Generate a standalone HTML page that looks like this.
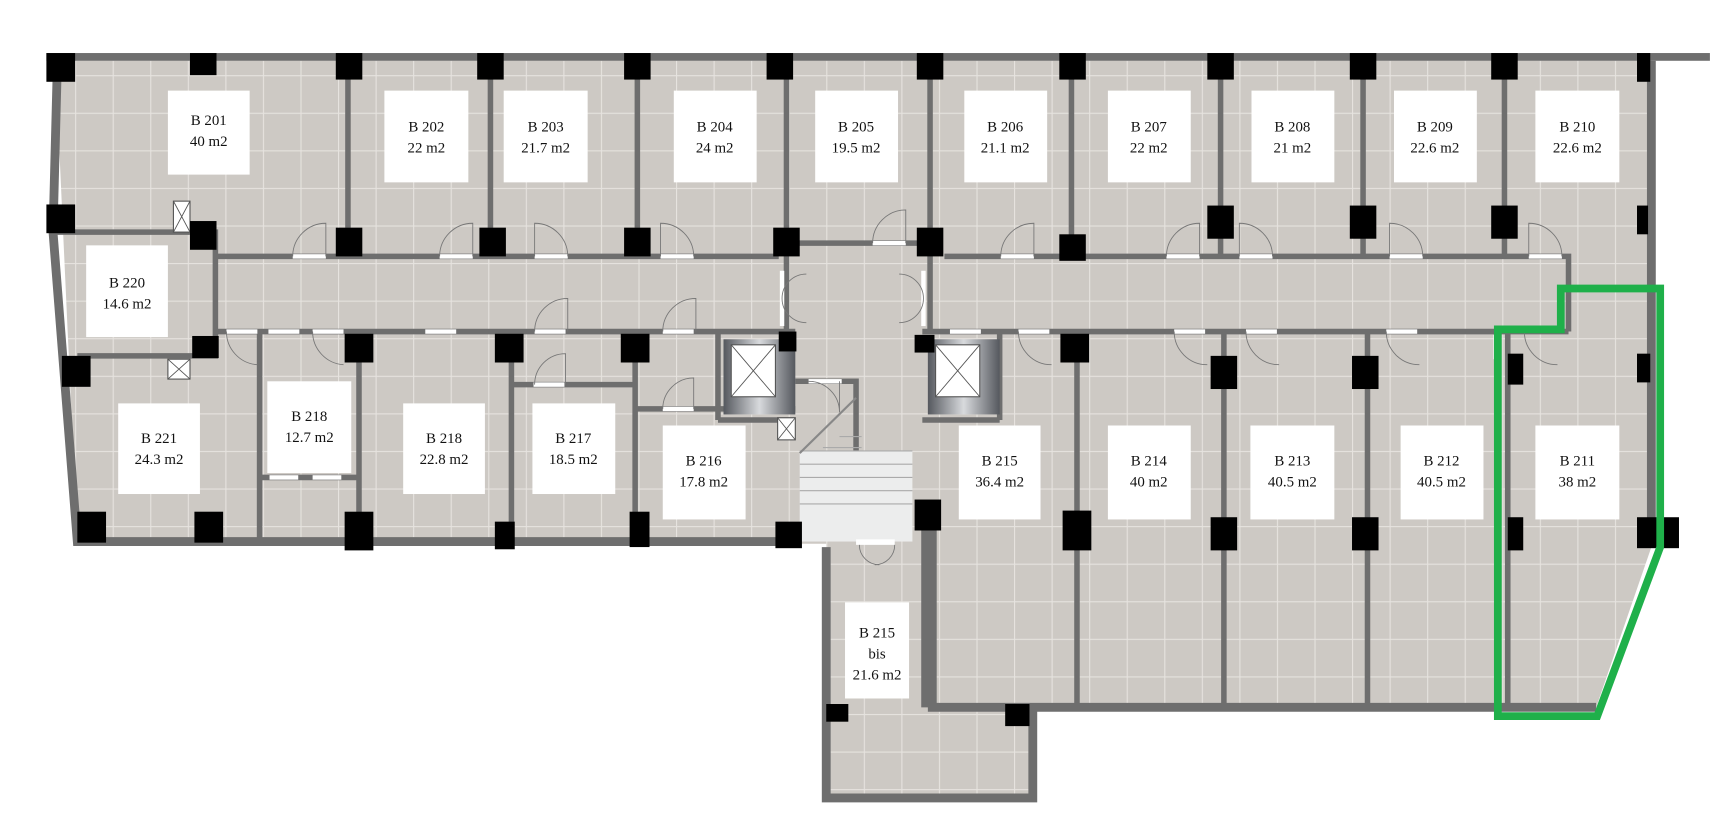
<!DOCTYPE html>
<html><head><meta charset="utf-8"><style>
html,body{margin:0;padding:0;background:#fff;width:1732px;height:830px;overflow:hidden}
svg{display:block}
text{font-family:"Liberation Serif",serif;font-size:13.5px;fill:#111;text-anchor:middle}
</style></head><body>
<svg width="1732" height="830" viewBox="0 0 1568 751" preserveAspectRatio="none" xmlns="http://www.w3.org/2000/svg">
<defs>
<pattern id="tile" width="34" height="34" patternUnits="userSpaceOnUse">
<rect width="34" height="34" fill="#cdc9c4"/>
<path d="M0 0.5H34M0.5 0V34" stroke="#e6e3df" stroke-width="1"/>
</pattern>
<linearGradient id="el" x1="0" x2="1"><stop offset="0" stop-color="#55585e"/><stop offset="0.5" stop-color="#d8dadd"/><stop offset="1" stop-color="#55585e"/></linearGradient>
</defs>
<path d="M50,55 L1495,55 L1495,495 L1445,640 L935,640 L935,720 L748,720 L748,492 L720,492 L70,490 Z" fill="url(#tile)"/>
<rect x="42" y="48" width="1506" height="7" fill="#6e6e6e"/>
<g fill="none" stroke="#6e6e6e" stroke-width="8">
<path d="M52,55 L48,210 L70,490 L320,490"/>
<path d="M320,490 L720,490"/>
<path d="M1495,55 L1495,495"/>
<path d="M1445,640 L840,640"/>
<path d="M748,495 L748,722 L935,722 L935,640"/>
</g>
<path d="M841,480 L841,640" stroke="#6e6e6e" stroke-width="14"/>
<g fill="none" stroke="#6e6e6e" stroke-width="5">
<path d="M48,210 L195,210 L195,300"/>
<path d="M195,232 L705,232 M705,220 L840,220 M855,232 L1420,232 L1420,300"/>
<path d="M195,300 L720,300 M835,300 L1420,300"/>
<path d="M315,55V232 M444,55V232 M577,55V232 M712,55V300 M842,55V300 M970,55V232 M1105,55V232 M1234,55V232 M1362,55V232"/>
<path d="M70,322 L195,322 L195,300"/>
<path d="M235,300V490 M325,300V490 M463,300V490 M575,300V490 M463,348H575 M575,370H720 M235,432H325 M720,345H775V440"/>
<path d="M975,300V640 M1108,300V640 M1238,300V640 M1365,300V640"/>
<path d="M835,380H905 M650,380H720 M650,300V380 M905,300V380"/>
</g>
<rect x="655" y="307" width="65" height="68" fill="url(#el)"/>
<rect x="840" y="307" width="65" height="68" fill="url(#el)"/>
<g fill="#fff" stroke="#555" stroke-width="1"><rect x="662" y="312" width="40" height="47"/><rect x="847" y="312" width="40" height="47"/><rect x="704" y="378" width="16" height="20"/><rect x="157" y="182" width="15" height="28"/><rect x="152" y="325" width="20" height="18"/></g>
<g stroke="#555" stroke-width="0.8"><path d="M662,312L702,359M702,312L662,359M847,312L887,359M887,312L847,359M704,378L720,398M720,378L704,398M157,182L172,210M172,182L157,210M152,325L172,343M172,325L152,343"/></g>
<rect x="724" y="408" width="102" height="82" fill="#eceded"/>
<g stroke="#aaa" stroke-width="1"><path d="M724,408H826M724,420H826M724,432H826M724,444H826M724,456H826M760,395H780M745,405H780"/></g>
<path d="M724,410 L775,360" stroke="#888" stroke-width="2"/>
<g fill="#fff"><rect x="265" y="230" width="30" height="4"/><rect x="398" y="230" width="30" height="4"/><rect x="484" y="230" width="30" height="4"/><rect x="598" y="230" width="30" height="4"/><rect x="790" y="218" width="30" height="4"/><rect x="906" y="230" width="30" height="4"/><rect x="1056" y="230" width="30" height="4"/><rect x="1122" y="230" width="30" height="4"/><rect x="1258" y="230" width="30" height="4"/><rect x="1384" y="230" width="30" height="4"/>
<rect x="205" y="298" width="28" height="4"/><rect x="243" y="298" width="28" height="4"/><rect x="283" y="298" width="28" height="4"/><rect x="385" y="298" width="28" height="4"/><rect x="484" y="298" width="28" height="4"/><rect x="600" y="298" width="28" height="4"/><rect x="860" y="298" width="28" height="4"/><rect x="922" y="298" width="28" height="4"/><rect x="1063" y="298" width="28" height="4"/><rect x="1128" y="298" width="28" height="4"/><rect x="1255" y="298" width="28" height="4"/><rect x="1352" y="303" width="6" height="22"/>
<rect x="706" y="245" width="4" height="50"/><rect x="834" y="245" width="4" height="50"/><rect x="244" y="430" width="26" height="4"/><rect x="283" y="430" width="26" height="4"/><rect x="483" y="346" width="28" height="4"/><rect x="600" y="368" width="28" height="4"/><rect x="732" y="343" width="30" height="4"/><rect x="775" y="488" width="35" height="5"/></g>
<g fill="#000">
<rect x="42" y="48" width="26" height="26"/><rect x="172" y="48" width="24" height="20"/><rect x="304" y="48" width="24" height="24"/><rect x="432" y="48" width="24" height="24"/><rect x="565" y="48" width="24" height="24"/><rect x="694" y="48" width="24" height="24"/><rect x="830" y="48" width="24" height="24"/><rect x="959" y="48" width="24" height="24"/><rect x="1093" y="48" width="24" height="24"/><rect x="1222" y="48" width="24" height="24"/><rect x="1350" y="48" width="24" height="24"/><rect x="1482" y="48" width="12" height="26"/>
<rect x="42" y="185" width="26" height="26"/><rect x="172" y="200" width="24" height="26"/><rect x="304" y="206" width="24" height="26"/><rect x="434" y="206" width="24" height="26"/><rect x="565" y="206" width="24" height="26"/><rect x="700" y="206" width="24" height="26"/><rect x="830" y="206" width="24" height="26"/><rect x="959" y="212" width="24" height="24"/><rect x="1093" y="186" width="24" height="30"/><rect x="1222" y="186" width="24" height="30"/><rect x="1350" y="186" width="24" height="30"/><rect x="1482" y="186" width="10" height="26"/>
<rect x="174" y="304" width="24" height="20"/><rect x="312" y="302" width="26" height="26"/><rect x="448" y="302" width="26" height="26"/><rect x="562" y="302" width="26" height="26"/><rect x="705" y="300" width="16" height="18"/><rect x="828" y="303" width="18" height="16"/><rect x="960" y="302" width="26" height="26"/><rect x="1096" y="322" width="24" height="30"/><rect x="1224" y="322" width="24" height="30"/><rect x="1365" y="320" width="14" height="28"/><rect x="1482" y="320" width="12" height="26"/>
<rect x="56" y="322" width="26" height="28"/><rect x="70" y="463" width="26" height="28"/><rect x="176" y="463" width="26" height="28"/><rect x="312" y="463" width="26" height="35"/><rect x="448" y="472" width="18" height="25"/><rect x="570" y="463" width="18" height="32"/><rect x="702" y="472" width="24" height="24"/><rect x="828" y="452" width="24" height="28"/><rect x="962" y="462" width="26" height="36"/><rect x="1096" y="468" width="24" height="30"/><rect x="1224" y="468" width="24" height="30"/><rect x="1365" y="468" width="14" height="30"/><rect x="1482" y="468" width="38" height="28"/>
<rect x="748" y="637" width="20" height="16"/><rect x="910" y="637" width="22" height="20"/>
</g>
<g fill="none" stroke="#777" stroke-width="0.8">
<path d="M265,232 A30,30 0 0 1 295,202 V232"/><path d="M398,232 A30,30 0 0 1 428,202 V232"/><path d="M514,232 A30,30 0 0 0 484,202 V232"/><path d="M628,232 A30,30 0 0 0 598,202 V232"/><path d="M790,220 A30,30 0 0 1 820,190 V220"/><path d="M906,232 A30,30 0 0 1 936,202 V232"/><path d="M1056,232 A30,30 0 0 1 1086,202 V232"/><path d="M1152,232 A30,30 0 0 0 1122,202 V232"/><path d="M1288,232 A30,30 0 0 0 1258,202 V232"/><path d="M1414,232 A30,30 0 0 0 1384,202 V232"/>
<path d="M484,300 A30,30 0 0 1 514,270 V300"/><path d="M600,300 A30,30 0 0 1 630,270 V300"/><path d="M922,300 A30,30 0 0 0 952,330"/><path d="M1063,300 A30,30 0 0 0 1093,330"/><path d="M1128,300 A30,30 0 0 0 1158,330"/><path d="M1255,300 A30,30 0 0 0 1285,330"/><path d="M1380,300 A30,30 0 0 0 1410,330"/>
<path d="M205,300 A30,30 0 0 0 233,330"/><path d="M283,300 A30,30 0 0 0 311,330"/><path d="M484,348 A28,28 0 0 1 512,320 V348"/><path d="M600,370 A28,28 0 0 1 628,342 V370"/><path d="M732,345 A28,28 0 0 1 760,373 V345"/><path d="M708,270 A22,22 0 0 1 730,248 M708,270 A22,22 0 0 0 730,292"/><path d="M836,270 A22,22 0 0 0 814,248 M836,270 A22,22 0 0 1 814,292"/>
<path d="M778,493 A18,18 0 0 0 796,511 M810,493 A18,18 0 0 1 792,511"/>
</g>
<g fill="#fff">
<rect x="152" y="82" width="74" height="76"/><rect x="348" y="82" width="76" height="83"/><rect x="456" y="82" width="76" height="83"/><rect x="610" y="82" width="75" height="83"/><rect x="738" y="82" width="75" height="83"/><rect x="873" y="82" width="75" height="83"/><rect x="1003" y="82" width="75" height="83"/><rect x="1133" y="82" width="75" height="83"/><rect x="1262" y="82" width="75" height="83"/><rect x="1390" y="82" width="76" height="83"/>
<rect x="78" y="222" width="74" height="83"/><rect x="107" y="365" width="74" height="82"/><rect x="242" y="345" width="76" height="83"/><rect x="365" y="365" width="74" height="82"/><rect x="482" y="365" width="75" height="82"/><rect x="600" y="385" width="75" height="85"/><rect x="868" y="385" width="74" height="85"/><rect x="1003" y="385" width="75" height="85"/><rect x="1132" y="385" width="76" height="85"/><rect x="1268" y="385" width="75" height="85"/><rect x="1390" y="385" width="76" height="85"/><rect x="765" y="545" width="58" height="87"/>
</g>
<text x="189" y="113">B 201</text><text x="189" y="132">40 m2</text>
<text x="386" y="119">B 202</text><text x="386" y="138">22 m2</text>
<text x="494" y="119">B 203</text><text x="494" y="138">21.7 m2</text>
<text x="647" y="119">B 204</text><text x="647" y="138">24 m2</text>
<text x="775" y="119">B 205</text><text x="775" y="138">19.5 m2</text>
<text x="910" y="119">B 206</text><text x="910" y="138">21.1  m2</text>
<text x="1040" y="119">B 207</text><text x="1040" y="138">22 m2</text>
<text x="1170" y="119">B 208</text><text x="1170" y="138">21 m2</text>
<text x="1299" y="119">B 209</text><text x="1299" y="138">22.6 m2</text>
<text x="1428" y="119">B 210</text><text x="1428" y="138">22.6 m2</text>
<text x="115" y="260">B 220</text><text x="115" y="279">14.6 m2</text>
<text x="144" y="401">B 221</text><text x="144" y="420">24.3 m2</text>
<text x="280" y="381">B 218</text><text x="280" y="400">12.7 m2</text>
<text x="402" y="401">B 218</text><text x="402" y="420">22.8 m2</text>
<text x="519" y="401">B 217</text><text x="519" y="420">18.5 m2</text>
<text x="637" y="421">B 216</text><text x="637" y="440">17.8 m2</text>
<text x="905" y="421">B 215</text><text x="905" y="440">36.4 m2</text>
<text x="1040" y="421">B 214</text><text x="1040" y="440">40 m2</text>
<text x="1170" y="421">B 213</text><text x="1170" y="440">40.5 m2</text>
<text x="1305" y="421">B 212</text><text x="1305" y="440">40.5 m2</text>
<text x="1428" y="421">B 211</text><text x="1428" y="440">38 m2</text>
<text x="794" y="577">B 215</text><text x="794" y="596">bis</text><text x="794" y="615">21.6 m2</text>
<path d="M1413,261 L1503,261 L1503,495 L1446,648 L1356,648 L1356,298 L1413,298 Z" fill="none" stroke="#1fb04a" stroke-width="7" stroke-linejoin="miter"/>
</svg>
</body></html>
